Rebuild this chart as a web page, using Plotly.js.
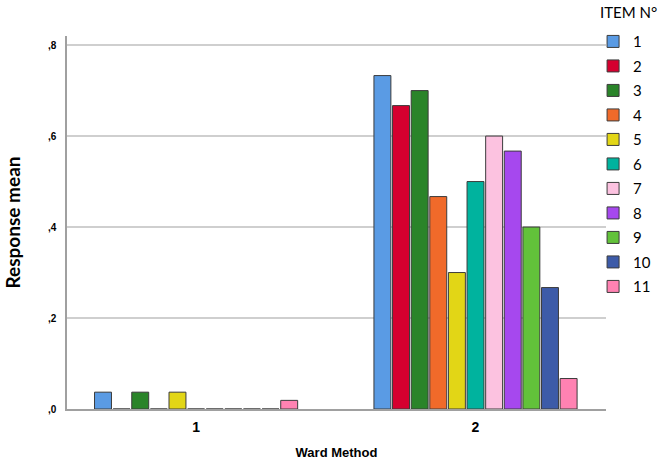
<!DOCTYPE html>
<html>
<head>
<meta charset="utf-8">
<script src="https://cdn.plot.ly/plotly-3.0.1.min.js"></script>
<style>
  html, body { margin: 0; padding: 0; background: #fff; }
  #chart { width: 661px; height: 460px; }
</style>
</head>
<body>
<div id="chart"></div>
<script>
const wardGroups = [1, 2];
const groupLabels = ["1", "2"];
const itemNames = ["1", "2", "3", "4", "5", "6", "7", "8", "9", "10", "11"];
// response mean per item, [group 1, group 2]
const item1  = [0.037, 0.733];
const item2  = [0.000, 0.667];
const item3  = [0.037, 0.700];
const item4  = [0.000, 0.467];
const item5  = [0.037, 0.300];
const item6  = [0.000, 0.500];
const item7  = [0.000, 0.600];
const item8  = [0.000, 0.567];
const item9  = [0.000, 0.400];
const item10 = [0.000, 0.267];
const item11 = [0.019, 0.067];
const itemValues = [item1, item2, item3, item4, item5, item6, item7, item8, item9, item10, item11];

const yTickVals = [0, 0.2, 0.4, 0.6, 0.8];
const yTickText = [",0", ",2", ",4", ",6", ",8"];

const ITEM_COLORS = [
    "#5a9be4", "#d5002f", "#2a8429", "#f06a2a", "#e2d616", "#00b39e",
    "#fcc2e0", "#a648ee", "#62c23a", "#3d5ba8", "#ff82b2",
];

const traces = itemNames.map((name, i) => ({
    type: "bar",
    x: wardGroups,
    y: itemValues[i],
    name: name,
    legendgroup: "g" + i,
    marker: { color: ITEM_COLORS[i], line: { color: "#3c3c3c", width: 1 } },
    hoverinfo: "skip",
}));

const layout = {
    width: 661,
    height: 460,
    margin: { t: 36, b: 51, l: 67, r: 55, autoexpand: false },
    paper_bgcolor: "#fff",
    plot_bgcolor: "#fff",
    barmode: "group",
    bargap: 0.267,
    bargroupgap: 0.09,
    showlegend: true,
    font: { family: "Liberation Sans, Arial, sans-serif", color: "#000" },
    xaxis: {
        range: [0.538, 2.467],
        tickvals: wardGroups,
        ticktext: groupLabels,
        tickfont: { size: 14, family: "Liberation Sans", weight: "bold" },
        ticks: "",
        ticklabelstandoff: 4,
        showgrid: false,
        zeroline: false,
        showline: true,
        linecolor: "#a0a0a0",
        linewidth: 1.5,
        fixedrange: true,
        title: { text: "<b>Ward Method</b>", font: { size: 13, family: "Liberation Sans" }, standoff: 20 },
    },
    yaxis: {
        range: [0, 0.82],
        tickvals: yTickVals,
        ticktext: yTickText,
        tickfont: { size: 10, family: "Liberation Sans", weight: "bold" },
        ticks: "",
        ticklabelstandoff: 7,
        showgrid: true,
        gridcolor: "#cfcfcf",
        gridwidth: 1.5,
        zeroline: false,
        showline: true,
        linecolor: "#a0a0a0",
        linewidth: 1.5,
        fixedrange: true,
        title: { text: "<b>Response mean</b>", font: { size: 19, family: "Lato, Open Sans, sans-serif" }, standoff: 22 },
    },
    legend: {
        x: 0.976,
        xanchor: "left",
        y: 1.029,
        yanchor: "top",
        maxheight: 460,
        traceorder: "grouped",
        tracegroupgap: 2,
        font: { size: 15, family: "Lato, Open Sans, sans-serif" },
        itemwidth: 30,
        bgcolor: "rgba(0,0,0,0)",
    },
    annotations: [{
        text: "ITEM N°",
        xref: "paper", yref: "paper",
        x: 1.098, y: 1.064,
        xanchor: "right", yanchor: "middle",
        showarrow: false,
        font: { size: 15, family: "Lato, Open Sans, sans-serif" },
    }],
};

Plotly.newPlot("chart", traces, layout, { displayModeBar: false, responsive: false });
</script>
</body>
</html>
